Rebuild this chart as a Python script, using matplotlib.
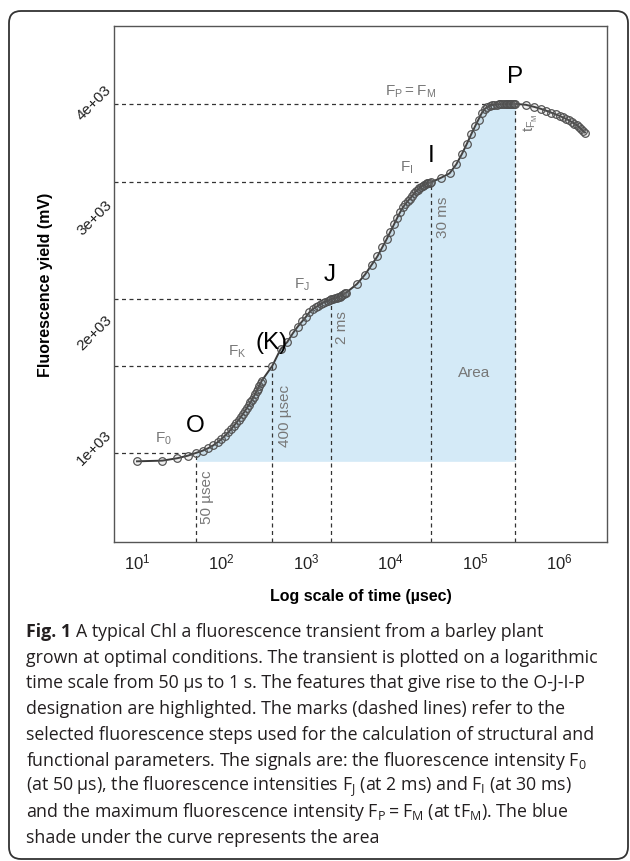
import numpy as np
import matplotlib
matplotlib.use("Agg")
import matplotlib.pyplot as plt
from matplotlib.patches import FancyBboxPatch
from matplotlib.transforms import blended_transform_factory
from matplotlib.ticker import NullLocator

plt.rcParams["font.family"] = ["Liberation Sans", "DejaVu Sans"]
plt.rcParams["mathtext.fontset"] = "custom"
plt.rcParams["mathtext.rm"] = "Liberation Sans"

# ---------------- data ----------------
time_us = [10, 20, 30, 40, 50, 60, 70, 80, 90, 100,
           110, 120, 130, 140, 150, 160, 170, 180, 190, 200,
           210, 220, 230, 240, 250, 260, 270, 280, 290, 300,
           400, 500, 600, 700, 800, 900, 1000, 1100, 1200, 1300,
           1400, 1500, 1600, 1700, 1800, 1900, 2000, 2100, 2200, 2300,
           2400, 2500, 2600, 2700, 2800, 2900, 3000,
           4000, 5000, 6000, 7000, 8000, 9000, 10000, 11000, 12000, 13000,
           14000, 15000, 16000, 17000, 18000, 19000, 20000, 21000, 22000, 23000,
           24000, 25000, 26000, 27000, 28000, 29000, 30000,
           40000, 50000, 60000, 70000, 80000, 90000, 100000, 110000, 120000, 130000,
           140000, 150000, 160000, 170000, 180000, 190000, 200000, 210000, 220000, 230000,
           240000, 250000, 260000, 270000, 280000, 290000, 300000,
           400000, 500000, 600000, 700000, 800000, 900000, 1000000, 1100000, 1200000, 1300000,
           1400000, 1500000, 1600000, 1700000, 1800000, 1900000, 2000000]

fluor_mv = [745, 751, 772, 794, 818, 838, 860, 884, 911, 939,
            968, 996, 1025, 1053, 1080, 1106, 1132, 1158, 1184, 1209,
            1234, 1258, 1282, 1306, 1330, 1353, 1377, 1400, 1423, 1446,
            1576, 1720, 1782, 1859, 1917, 1962, 2002, 2042, 2067, 2085,
            2099, 2115, 2124, 2132, 2139, 2147, 2156, 2159, 2163, 2168,
            2173, 2178, 2184, 2190, 2197, 2205, 2212,
            2286, 2369, 2454, 2527, 2606, 2676, 2743, 2805, 2862, 2911,
            2952, 2982, 3007, 3030, 3052, 3075, 3092, 3107, 3121, 3133,
            3143, 3151, 3157, 3162, 3166, 3168, 3170,
            3212, 3249, 3327, 3417, 3505, 3587, 3657, 3717, 3772, 3807,
            3827, 3837, 3842, 3845, 3847, 3849, 3850, 3850, 3851, 3851,
            3851, 3852, 3852, 3852, 3852, 3852, 3853,
            3845, 3827, 3810, 3793, 3777, 3762, 3749, 3735, 3722, 3709,
            3695, 3682, 3667, 3652, 3635, 3619, 3604]

step_times = [50, 400, 2000, 30000, 300000]          # F0, FK, FJ, FI, FM
area_range = (50, 300000)

y_ticks = [1000, 2000, 3000, 4000]
y_tick_labels = ["1e+03", "2e+03", "3e+03", "4e+03"]
x_ticks = [1e1, 1e2, 1e3, 1e4, 1e5, 1e6]
x_tick_labels = [r"$\mathregular{10^{%d}}$" % k for k in range(1, 7)]

caption_lines = [
    "A typical Chl a fluorescence transient from a barley plant",
    "grown at optimal conditions. The transient is plotted on a logarithmic",
    "time scale from 50 \u00b5s to 1 s. The features that give rise to the O-J-I-P",
    "designation are highlighted. The marks (dashed lines) refer to the",
    "selected fluorescence steps used for the calculation of structural and",
    r"functional parameters. The signals are: the fluorescence intensity $\mathregular{F_0}$",
    "(at 50 \u00b5s), the fluorescence intensities $\\mathregular{F_J}$ (at 2 ms) and $\\mathregular{F_I}$ (at 30 ms)",
    r"and the maximum fluorescence intensity $\mathregular{F_P = F_M}$ (at t$\mathregular{F_M}$). The blue",
    "shade under the curve represents the area",
]

# ---------------- figure ----------------
W, H = 630, 862
fig = plt.figure(figsize=(W / 100, H / 100), dpi=100)
ax_l, ax_r, ax_t, ax_b = 114, 607, 27, 543
ax = fig.add_axes([ax_l / W, 1 - ax_b / H, (ax_r - ax_l) / W, (ax_b - ax_t) / H])

t = np.array(time_us, dtype=float)
f = np.array(fluor_mv, dtype=float)

ax.set_xscale("log")
xmin, xmax = 10 ** 0.728, 10 ** 6.562
ymin, ymax = 43.5, 4530
ax.set_xlim(xmin, xmax)
ax.set_ylim(ymin, ymax)

# area fill
m = (t >= area_range[0]) & (t <= area_range[1])
ax.fill_between(t[m], f[0], f[m], color="#d4eaf7", lw=0, zorder=1)

# dashed step marks
for ts in step_times:
    fs = f[np.where(t == ts)[0][0]]
    ax.plot([xmin, ts], [fs, fs], ls=(0, (3.2, 2.8)), color="#333333", lw=0.9, zorder=2)
    ax.plot([ts, ts], [ymin, fs], ls=(0, (3.2, 2.8)), color="#333333", lw=0.9, zorder=2)

# transient
ax.plot(t, f, color="#3a3a3a", lw=1.4, marker="o", ms=5.5, mfc=(0.5, 0.5, 0.5, 0.12),
        mec="#505050", mew=0.85, zorder=3)

# axes styling
for s in ax.spines.values():
    s.set_color("#555555")
    s.set_linewidth(1.0)
ax.set_xticks(x_ticks)
ax.set_xticklabels(x_tick_labels, fontsize=12, color="#222222")
ax.xaxis.set_minor_locator(NullLocator())
ax.tick_params(axis="x", length=0, pad=7)
ax.set_yticks([])

trans = blended_transform_factory(ax.transAxes, ax.transData)
for v, lab in zip(y_ticks, y_tick_labels):
    ax.text(-0.009, v, lab, transform=trans, rotation=45, rotation_mode="anchor",
            ha="right", va="center", fontsize=11, color="#222222", clip_on=False)

# annotations
gray = "#777777"
big = 17.5
small = 11
ann = [
    (20.6, 952, r"$\mathregular{F_0}$", small, gray, 0),
    (48.5, 1061, "O", big, "black", 0),
    (152, 1704, r"$\mathregular{F_K}$", small, gray, 0),
    (396, 1783, "(K)", big, "black", 0),
    (897, 2287, r"$\mathregular{F_J}$", small, gray, 0),
    (1923, 2374, "J", big, "black", 0),
    (15670, 3309, r"$\mathregular{F_I}$", small, gray, 0),
    (30100, 3409, "I", big, "black", 0),
    (17500, 3965, r"$\mathregular{F_P = F_M}$", small, gray, 0),
    (297000, 4096, "P", big, "black", 0),
    (67.3, 443, "50 \u00b5sec", small, gray, 90),
    (564, 1148, "400 \u00b5sec", small, gray, 90),
    (2667, 1913, "2 ms", small, gray, 90),
    (41800, 2878, "30 ms", small, gray, 90),
    (460000, 3696, r"$\mathregular{t_{F_M}}$", small, gray, 90),
    (97300, 1522, "Area", small, gray, 0),
]
for x, y, s, fs, c, rot in ann:
    ax.text(x, y, s, fontsize=fs, color=c, rotation=rot, ha="center", va="center", zorder=4)

# axis titles
fig.text(360.5 / W, 1 - 597 / H, "Log scale of time (\u00b5sec)", fontsize=11.5,
         fontweight="bold", ha="center", va="center")
fig.text(46 / W, 1 - 285 / H, "Fluorescence yield (mV)", fontsize=11.5,
         fontweight="bold", ha="center", va="center", rotation=90)

# caption
cap_font = "Open Sans"
cap_size = 12.8
cap_color = "#231f20"
x0 = 26 / W
renderer = fig.canvas.get_renderer()
for i, line in enumerate(caption_lines):
    yb = 1 - (637 + i * 25.75) / H
    if i == 0:
        tb = fig.text(x0, yb, "Fig. 1", fontsize=cap_size, family=cap_font,
                      fontweight="bold", color=cap_color, va="baseline")
        bb = tb.get_window_extent(renderer)
        fig.text(x0 + (bb.width + 5) / W, yb, line, fontsize=cap_size, family=cap_font,
                 color=cap_color, va="baseline")
    else:
        fig.text(x0, yb, line, fontsize=cap_size, family=cap_font,
                 color=cap_color, va="baseline")

# rounded frame
frame = FancyBboxPatch((0.09, 0.02), 6.19, 8.48,
                       boxstyle="round,pad=0,rounding_size=0.12",
                       transform=fig.dpi_scale_trans, fill=False,
                       ec="#333333", lw=1.3)
fig.add_artist(frame)

fig.savefig("out.png", dpi=100)
